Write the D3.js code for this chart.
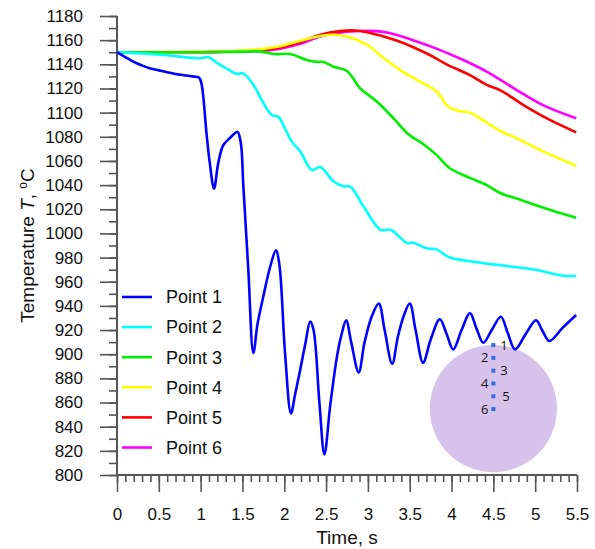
<!DOCTYPE html>
<html>
<head>
<meta charset="utf-8">
<script src="https://cdn.jsdelivr.net/npm/d3@7"></script>
<style>
  body { margin: 0; background: #fff; }
  text { font-family: "Liberation Sans", Arial, sans-serif; fill: #111; }
</style>
</head>
<body>
<div id="chart"></div>
<script>
// data: time (s) and temperature (C) per point
var seriesNames = ["Point 1", "Point 2", "Point 3", "Point 4", "Point 5", "Point 6"];
var seriesColors = ["#0000ff", "#00ffff", "#00ee00", "#ffff00", "#ff0000", "#ff00ff"];

var p1Time = [0, 0.1, 0.2, 0.3, 0.4, 0.5, 0.6, 0.7, 0.8, 0.9, 0.98, 1.01, 1.07, 1.11, 1.16, 1.21, 1.27, 1.35, 1.44, 1.48, 1.51, 1.57, 1.63, 1.68, 1.75, 1.83, 1.90, 1.94, 2.01, 2.08, 2.13, 2.19, 2.25, 2.31, 2.35, 2.42, 2.48, 2.55, 2.63, 2.68, 2.74, 2.80, 2.89, 2.96, 3.05, 3.13, 3.20, 3.29, 3.36, 3.43, 3.50, 3.57, 3.66, 3.75, 3.86, 3.94, 4.02, 4.12, 4.22, 4.30, 4.38, 4.48, 4.59, 4.67, 4.76, 4.88, 5.01, 5.09, 5.17, 5.33, 5.49];
var p1Temp = [1150, 1146, 1142, 1139, 1136.5, 1135, 1133.5, 1132, 1131, 1130, 1129, 1124, 1083, 1058, 1037, 1058, 1073, 1079, 1084, 1075, 1040, 970, 901, 925, 948, 972, 986, 975, 900, 851, 867, 887, 908, 927, 920, 860, 817, 858, 898, 915, 928, 910, 885, 910, 932, 942, 920, 892, 915, 932, 942, 920, 893, 912, 929, 917, 904, 920, 934, 921, 909.5, 920, 931, 918, 904, 916, 928, 919, 911, 922, 932.5];

var p2Time = [0, 0.3, 0.6, 0.99, 1.09, 1.2, 1.31, 1.43, 1.51, 1.63, 1.75, 1.85, 1.93, 2.0, 2.09, 2.19, 2.33, 2.43, 2.59, 2.71, 2.79, 2.95, 3.15, 3.27, 3.47, 3.54, 3.70, 3.82, 3.98, 4.22, 4.54, 4.78, 5.02, 5.34, 5.49];
var p2Temp = [1150, 1149, 1147.5, 1145, 1146, 1141, 1136.5, 1132, 1132.5, 1123, 1108, 1098, 1096.5, 1088, 1076, 1068, 1052.5, 1055, 1043, 1039, 1038.7, 1022, 1003, 1003, 992, 992.3, 987.7, 986.8, 980, 977, 974, 972, 969.7, 965, 964.8];

var p3Time = [0, 1.0, 1.5, 1.73, 1.87, 2.07, 2.27, 2.39, 2.47, 2.59, 2.75, 2.91, 3.11, 3.31, 3.47, 3.66, 3.82, 3.98, 4.22, 4.42, 4.58, 4.84, 4.94, 5.2, 5.49];
var p3Temp = [1150, 1150, 1150.5, 1150.5, 1148.5, 1148.5, 1143.6, 1142, 1142, 1138, 1134.5, 1120, 1109, 1095, 1083, 1074, 1065, 1054, 1046, 1040, 1033.5, 1027.5, 1025, 1019, 1013];

var p4Time = [0, 1.0, 1.4, 1.71, 1.95, 2.19, 2.43, 2.6, 2.75, 2.99, 3.19, 3.39, 3.59, 3.82, 3.96, 4.08, 4.22, 4.38, 4.58, 4.82, 5.10, 5.49];
var p4Temp = [1150, 1150.3, 1151, 1152.5, 1155, 1159.5, 1163.5, 1164.5, 1163, 1156, 1145, 1135, 1127, 1117.5, 1105, 1101.5, 1100, 1093.5, 1085, 1077.5, 1067.7, 1056];

var p5Time = [0, 1.0, 1.4, 1.71, 1.95, 2.19, 2.43, 2.67, 2.85, 2.99, 3.35, 3.74, 3.94, 4.22, 4.42, 4.58, 4.86, 5.14, 5.49];
var p5Temp = [1150, 1150.2, 1150.8, 1151.5, 1154, 1158.5, 1164.5, 1167.5, 1168, 1166.5, 1159.5, 1147.7, 1140, 1131, 1123, 1118.7, 1106.3, 1095.3, 1083.7];

var p6Time = [0, 1.0, 1.4, 1.71, 1.95, 2.19, 2.43, 2.67, 2.91, 3.1, 3.27, 3.54, 3.82, 4.14, 4.42, 4.78, 5.10, 5.49];
var p6Temp = [1150, 1150, 1150.5, 1151, 1153, 1157, 1163, 1166.3, 1167.6, 1167.5, 1165.7, 1160, 1153, 1143.6, 1134, 1118.7, 1106, 1095.3];

var allTimes = [p1Time, p2Time, p3Time, p4Time, p5Time, p6Time];
var allTemps = [p1Temp, p2Temp, p3Temp, p4Temp, p5Temp, p6Temp];

// inset: cross-section with the six probe positions
var insetLabels = ["1", "2", "3", "4", "5", "6"];
var insetSide = ["right", "left", "right", "left", "right", "left"];

var svgWidth = 595;
var svgHeight = 549;

var margin = { top: 16, right: 18, bottom: 74, left: 117 };
var width = svgWidth - margin.left - margin.right;
var height = svgHeight - margin.top - margin.bottom;

var svg = d3.select("#chart")
    .append("svg")
    .attr("width", svgWidth)
    .attr("height", svgHeight);

var chartGroup = svg.append("g")
    .attr("transform", `translate(${margin.left}, ${margin.top})`);

var xScale = d3.scaleLinear().domain([0, 5.5]).range([0, width]);
var yScale = d3.scaleLinear().domain([800, 1180]).range([height, 0]);

var axisColor = "#555";

// minor ticks first, majors drawn over them
var xMinor = d3.axisBottom(xScale).tickValues(d3.range(0, 55.5, 1).map(d => d / 10))
    .tickSize(7).tickFormat("");
var yMinor = d3.axisLeft(yScale).tickValues(d3.range(800, 1181, 10))
    .tickSize(8).tickFormat("");

chartGroup.append("g").attr("transform", `translate(0, ${height})`).call(xMinor);
chartGroup.append("g").call(yMinor);

var bottomAxis = d3.axisBottom(xScale)
    .tickValues(d3.range(0, 12, 1).map(d => d / 2))
    .tickSize(17).tickPadding(16)
    .tickFormat(d3.format("~g"));
var leftAxis = d3.axisLeft(yScale)
    .tickValues(d3.range(800, 1181, 20))
    .tickSize(17).tickPadding(17)
    .tickFormat(d3.format("d"));

var xAxis = chartGroup.append("g")
    .attr("transform", `translate(0, ${height})`)
    .call(bottomAxis);
var yAxis = chartGroup.append("g").call(leftAxis);

chartGroup.selectAll(".domain").attr("stroke", axisColor).attr("stroke-width", 2);
chartGroup.selectAll(".tick line").attr("stroke", axisColor).attr("stroke-width", 1.6);
chartGroup.selectAll(".tick text")
    .style("font-family", "'Liberation Sans', Arial, sans-serif")
    .style("font-size", "17px")
    .attr("fill", "#111");

// the axis lines themselves have no end caps in the picture
chartGroup.selectAll(".domain").attr("d", function() {
    return d3.select(this.parentNode).attr("transform") ?
        `M0,0H${width}` : `M0,${height}V0`;
});

// axis titles
svg.append("text")
    .attr("x", margin.left + width / 2)
    .attr("y", 544)
    .attr("text-anchor", "middle")
    .style("font-size", "19px")
    .text("Time, s");

var yTitle = svg.append("text")
    .attr("transform", `translate(34, ${margin.top + height / 2}) rotate(-90)`)
    .attr("text-anchor", "middle")
    .style("font-size", "19px");
yTitle.append("tspan").text("Temperature ");
yTitle.append("tspan").style("font-style", "italic").text("T");
yTitle.append("tspan").text(",  ");
yTitle.append("tspan").attr("dy", -7).style("font-size", "12px").text("o");
yTitle.append("tspan").attr("dy", 7).text("C");

// inset circle (drawn under the curves)
var insetCx = xScale(4.5);
var insetCy = yScale(855);
var insetR = xScale(0.76) - xScale(0);
var inset = chartGroup.append("g");
inset.append("circle")
    .attr("cx", insetCx)
    .attr("cy", insetCy)
    .attr("r", insetR)
    .attr("fill", "#d6c2ea");

var insetStep = 12.8;
var insetTop = insetCy - 63.5;
inset.selectAll("rect")
    .data(insetLabels)
    .enter()
    .append("rect")
    .attr("x", insetCx - 2)
    .attr("y", (d, i) => insetTop + i * insetStep - 2)
    .attr("width", 4)
    .attr("height", 4)
    .attr("fill", "#2f6de0");
inset.selectAll("text")
    .data(insetLabels)
    .enter()
    .append("text")
    .attr("x", (d, i) => insetSide[i] === "right" ? insetCx + (i === 4 ? 9 : 7) : insetCx - 5)
    .attr("y", (d, i) => insetTop + i * insetStep)
    .attr("dy", "0.35em")
    .attr("text-anchor", (d, i) => insetSide[i] === "right" ? "start" : "end")
    .style("font-family", "'Open Sans', sans-serif")
    .style("font-size", "13px")
    .attr("fill", "#333")
    .text(d => d);

// curves
var line = d3.line()
    .x(d => xScale(d[0]))
    .y(d => yScale(d[1]))
    .curve(d3.curveCatmullRom.alpha(0.5));

// draw point 6 first so point 1 ends up on top
for (var s = seriesNames.length - 1; s >= 0; s--) {
    var pts = allTimes[s].map((t, i) => [t, allTemps[s][i]]);
    chartGroup.append("path")
        .datum(pts)
        .attr("fill", "none")
        .attr("stroke", seriesColors[s])
        .attr("stroke-width", 2.6)
        .attr("stroke-linejoin", "round")
        .attr("d", line);
}

// legend
var legend = svg.append("g").attr("transform", "translate(122, 297)");
var rows = legend.selectAll("g")
    .data(seriesNames)
    .enter()
    .append("g")
    .attr("transform", (d, i) => `translate(0, ${i * 30.1})`);
rows.append("line")
    .attr("x1", 0).attr("x2", 30)
    .attr("stroke", (d, i) => seriesColors[i])
    .attr("stroke-width", 2.6);
rows.append("text")
    .attr("x", 44)
    .attr("dy", "0.35em")
    .style("font-size", "18px")
    .text(d => d);
</script>
</body>
</html>
